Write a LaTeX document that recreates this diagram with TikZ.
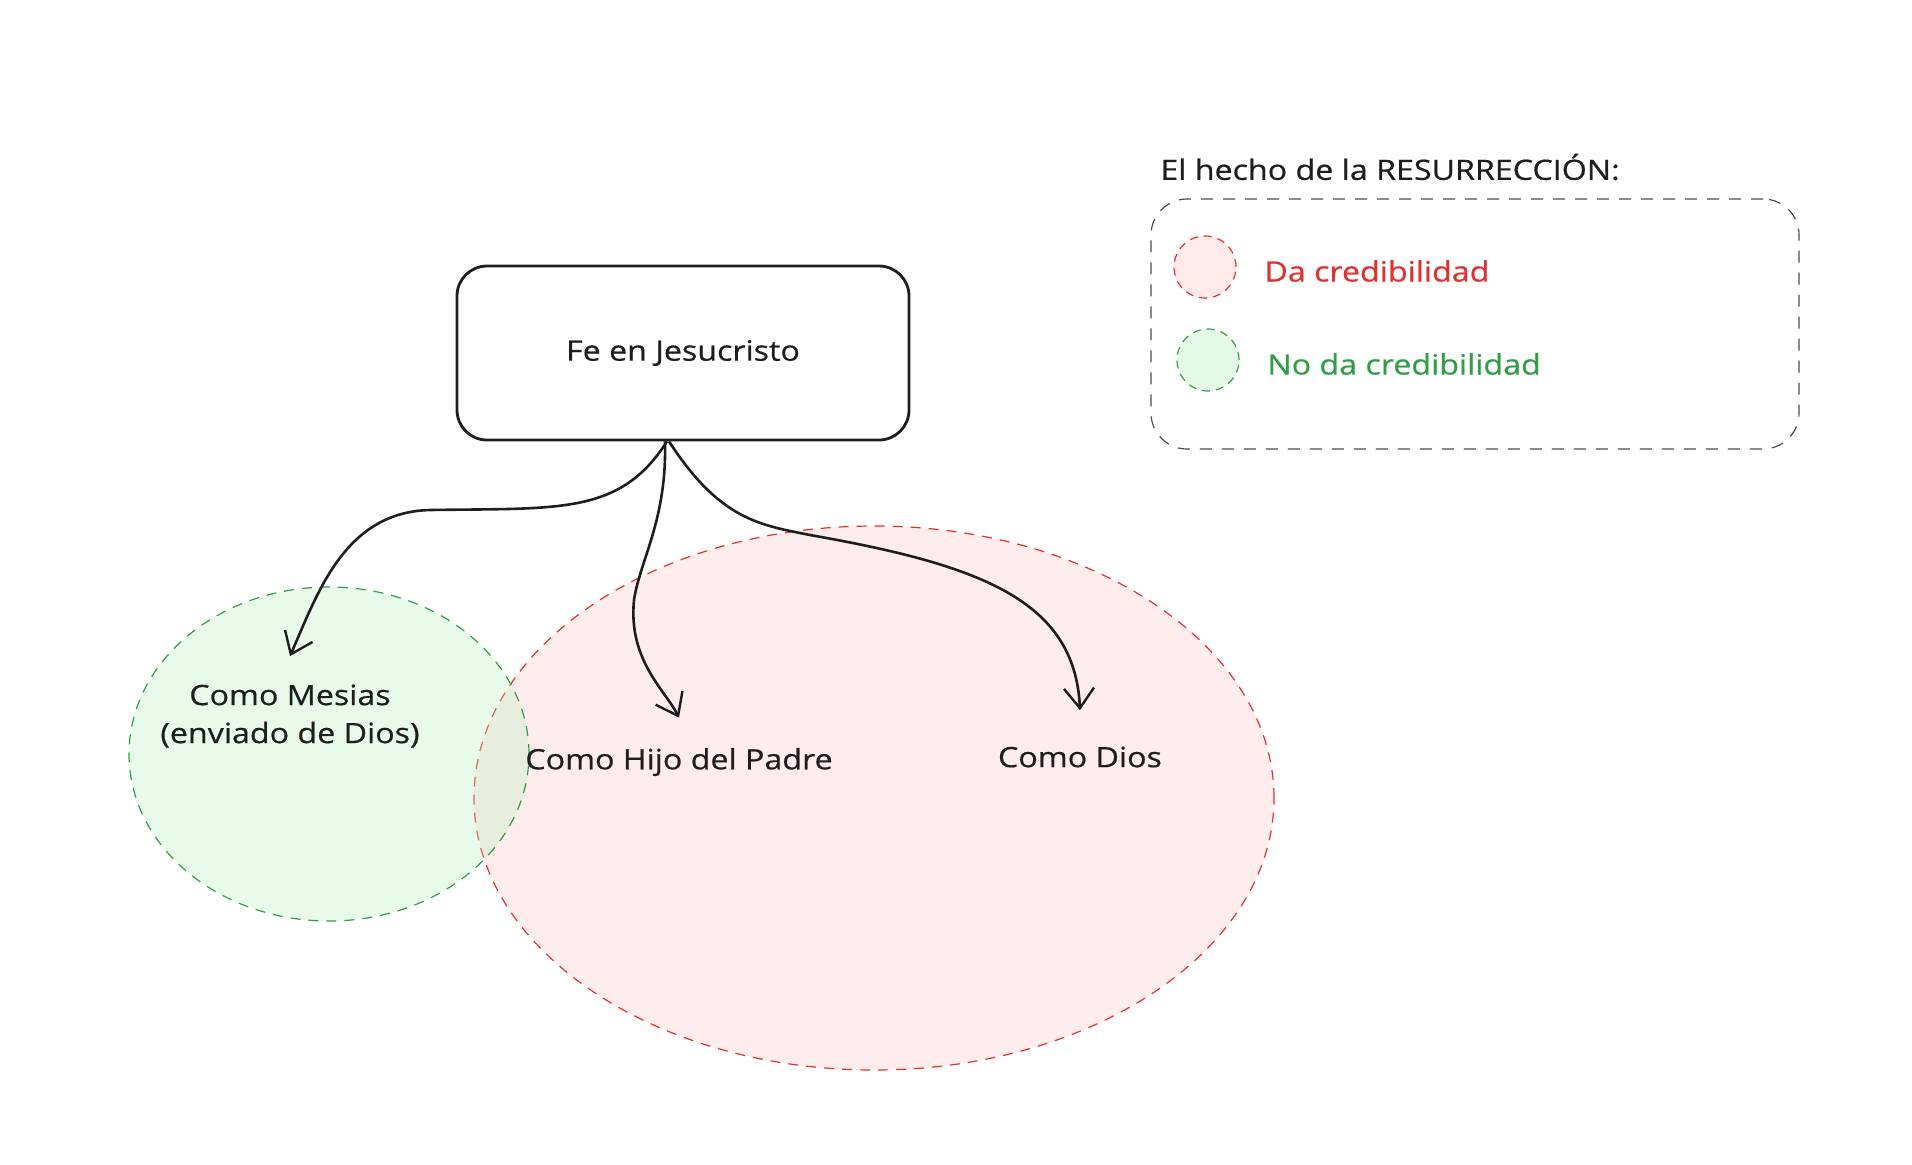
\documentclass[tikz,border=0pt]{standalone}
\usepackage{fontspec}
\setmainfont[FakeStretch=1.15,FakeBold=0.6]{Open Sans}
\usetikzlibrary{arrows.meta,shapes.geometric}

\definecolor{rotrand}{HTML}{E03131}
\definecolor{rotfuell}{HTML}{FFC9C9}
\definecolor{gruenrand}{HTML}{2F9E44}
\definecolor{gruenfuell}{HTML}{B2F2BB}
\definecolor{tinte}{HTML}{1E1E1E}

\begin{document}
\begin{tikzpicture}[x={(0.5pt,0)},y={(0,-0.5pt)},>={Straight Barb[length=10pt,width=15pt,line width=1.2pt]},
  txt/.style={font=\fontsize{14}{19}\selectfont,text=tinte,inner sep=3pt},
  menge/.style={ellipse,dashed,dash pattern=on 5pt off 4pt,line width=.6pt},
  punkt/.style={circle,dashed,dash pattern=on 4pt off 3pt,line width=.6pt,minimum size=31pt,inner sep=0pt},
  pfeil/.style={->,draw=tinte,line width=1.3pt}]
  \useasboundingbox (0,0) rectangle (1912,1164);
  % Mengen
  \node[menge,draw=rotrand,fill=rotfuell,fill opacity=.35,minimum width=400pt,minimum height=272pt] (rot) at (874,798) {};
  \node[menge,draw=gruenrand,fill=gruenfuell,fill opacity=.3,minimum width=200pt,minimum height=167pt] (gruen) at (329,754) {};
  % Kasten oben
  \node[txt,draw=tinte,line width=1.4pt,rounded corners=15pt,minimum width=226pt,minimum height=87pt] (fe) at (683,353) {Fe en Jesucristo};
  % Beschriftungen
  \node[txt,align=center] (mesias) at (290,716) {Como Mesias\\(enviado de Dios)};
  \node[txt] (hijo) at (679,762) {Como Hijo del Padre};
  \node[txt] (dios) at (1080,757) {Como Dios};
  % Pfeile
  \draw[pfeil] ([xshift=-8pt]fe.south) .. controls (620,515) and (560,508) .. (430,510) .. controls (345,512) and (318,592) .. ([yshift=11pt]mesias.north);
  \draw[pfeil] ([xshift=-9pt]fe.south) .. controls (667,520) and (640,560) .. (634,600) .. controls (628,660) and (665,690) .. ([yshift=12pt]hijo.north);
  \draw[pfeil] ([xshift=-7pt]fe.south) .. controls (720,520) and (760,525) .. (810,535) .. controls (980,565) and (1075,600) .. ([yshift=15pt]dios.north);
  % Legende
  \node[anchor=west,txt] (titel) at (1154,167) {El hecho de la RESURRECCIÓN:};
  \node[draw=tinte!80,dashed,dash pattern=on 6pt off 5pt,line width=.6pt,rounded corners=18pt,minimum width=324pt,minimum height=125pt] (legende) at (1475,324) {};
  \node[punkt,draw=rotrand,fill=rotfuell,fill opacity=.4] (punktrot) at (1205,267) {};
  \node[punkt,draw=gruenrand,fill=gruenfuell,fill opacity=.35] (punktgruen) at (1208,360) {};
  \node[anchor=west,txt,text=rotrand] (da) at (1258,271) {Da credibilidad};
  \node[anchor=west,txt,text=gruenrand] (noda) at (1261,364) {No da credibilidad};
\end{tikzpicture}
\end{document}
